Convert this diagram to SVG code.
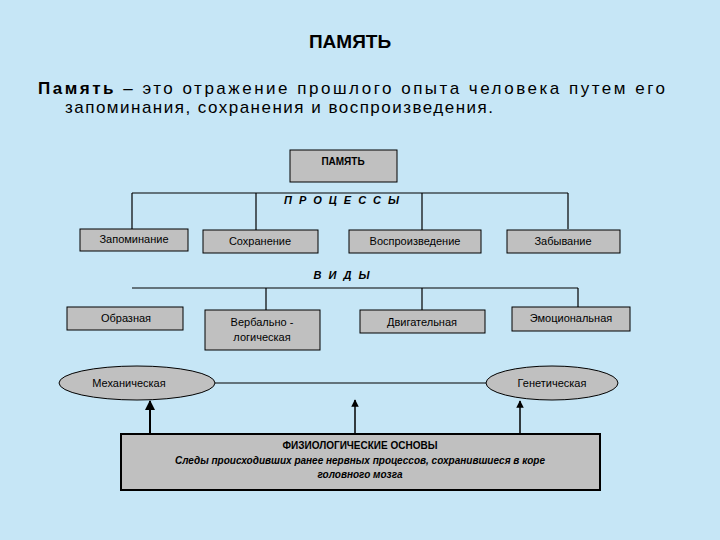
<svg xmlns="http://www.w3.org/2000/svg" width="720" height="540" viewBox="0 0 720 540">
<defs>
<style>
.b{fill:#c0c0c0;stroke:#000;stroke-width:1}
.t{font-family:"Liberation Sans",Arial,sans-serif;font-size:11px;fill:#000;text-anchor:middle}
.l{stroke:#000;stroke-width:1.2;fill:none}
.h{font-family:"Liberation Sans",Arial,sans-serif;font-size:17px;fill:#000}
</style>
<marker id="a" viewBox="0 0 10 10" refX="9" refY="5" markerWidth="5" markerHeight="5" orient="auto"><path d="M0,0L10,5L0,10z" fill="#000"/></marker>
</defs>
<rect width="720" height="540" fill="#c6e6f6"/>
<text x="350" y="48" class="t" style="font-size:19px;font-weight:bold">ПАМЯТЬ</text>
<text x="38" y="94" class="h" textLength="627" lengthAdjust="spacing"><tspan font-weight="bold">Память</tspan> – это отражение прошлого опыта человека путем его</text>
<text x="65" y="113" class="h" textLength="428" lengthAdjust="spacing">запоминания, сохранения и воспроизведения.</text>
<g id="connectors">
<path class="l" d="M132,193H568M132,193V229M256,193V230M422,193V230M568,193V229"/>
<path class="l" d="M132,288H578M266,288V310M422,288V310M578,288V307"/>
<line class="l" x1="215" y1="383" x2="486" y2="383"/>
<line x1="150" y1="434" x2="150" y2="401" stroke="#000" stroke-width="2" marker-end="url(#a)"/>
<line x1="355" y1="434" x2="355" y2="400" stroke="#000" stroke-width="1.5" marker-end="url(#a)"/>
<line x1="520" y1="434" x2="520" y2="401" stroke="#000" stroke-width="1.5" marker-end="url(#a)"/>
</g>
<g id="root"><rect class="b" x="290" y="150" width="107" height="32"/><text x="343" y="165" class="t" style="font-weight:bold;font-size:10px">ПАМЯТЬ</text></g>
<text x="345" y="204" class="t" style="font-style:italic;font-weight:bold;font-size:11px;letter-spacing:7px">ПРОЦЕССЫ</text>
<g id="p1"><rect class="b" x="80" y="229" width="108" height="22"/><text x="134" y="243" class="t">Запоминание</text></g>
<g id="p2"><rect class="b" x="203" y="230" width="115" height="23"/><text x="260" y="245" class="t">Сохранение</text></g>
<g id="p3"><rect class="b" x="349" y="230" width="132" height="23"/><text x="415" y="245" class="t">Воспроизведение</text></g>
<g id="p4"><rect class="b" x="507" y="230" width="113" height="23"/><text x="563" y="245" class="t">Забывание</text></g>
<text x="345" y="279" class="t" style="font-style:italic;font-weight:bold;font-size:11px;letter-spacing:7px">ВИДЫ</text>
<g id="v1"><rect class="b" x="67" y="307" width="116" height="23"/><text x="126" y="322" class="t">Образная</text></g>
<g id="v2"><rect class="b" x="205" y="310" width="115" height="40"/><text x="262" y="326" class="t">Вербально -</text><text x="262" y="341" class="t">логическая</text></g>
<g id="v3"><rect class="b" x="360" y="310" width="125" height="23"/><text x="422" y="326" class="t">Двигательная</text></g>
<g id="v4"><rect class="b" x="512" y="307" width="118" height="24"/><text x="571" y="322" class="t">Эмоциональная</text></g>
<g id="mech"><ellipse class="b" cx="137" cy="383" rx="78" ry="17"/><text x="129" y="387" class="t">Механическая</text></g>
<g id="gen"><ellipse class="b" cx="552" cy="383" rx="66" ry="17"/><text x="552" y="387" class="t">Генетическая</text></g>
<g id="phys"><rect x="121" y="434" width="479" height="56" fill="#c0c0c0" stroke="#000" stroke-width="2"/>
<text x="360" y="449" class="t" style="font-weight:bold;font-size:10px">ФИЗИОЛОГИЧЕСКИЕ ОСНОВЫ</text>
<text x="360" y="464" class="t" style="font-weight:bold;font-style:italic;font-size:10px">Следы происходивших ранее нервных процессов, сохранившиеся в коре</text>
<text x="360" y="478" class="t" style="font-weight:bold;font-style:italic;font-size:10px">головного мозга</text></g>
</svg>
